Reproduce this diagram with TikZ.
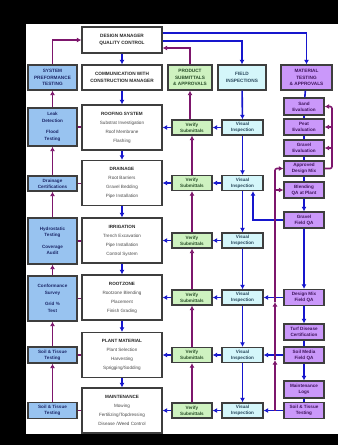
\documentclass[tikz,border=0pt]{standalone}
\usepackage{fontspec}
\setmainfont{Liberation Sans}
\usetikzlibrary{arrows.meta}

\definecolor{flowblue}{RGB}{22,22,205}
\definecolor{flowpurple}{RGB}{125,22,108}
\definecolor{boxedge}{RGB}{62,62,62}
\definecolor{fillblue}{RGB}{152,195,240}
\definecolor{fillgreen}{RGB}{206,242,192}
\definecolor{fillcyan}{RGB}{212,246,250}
\definecolor{fillpurple}{RGB}{202,152,250}
\definecolor{inkdark}{RGB}{38,38,38}
\definecolor{inkgray}{RGB}{75,75,75}
\definecolor{inkblue}{RGB}{28,40,105}
\definecolor{inkgreen}{RGB}{40,78,40}
\definecolor{inkcyan}{RGB}{40,72,92}
\definecolor{inkpurple}{RGB}{62,20,92}

\begin{document}
\begin{tikzpicture}[x=1pt,y=-1pt,
  box/.style={draw=boxedge,line width=1.3pt,inner sep=0pt,align=center,
    font=\fontsize{4.6}{6}\selectfont\bfseries},
  headbox/.style={box,minimum height=25pt,font=\fontsize{4.7}{6.4}\selectfont\bfseries},
  mainbox/.style={box,fill=white,text=inkgray,minimum width=80pt,minimum height=45pt,
    font=\fontsize{4.6}{9}\selectfont},
  testbox/.style={box,fill=fillblue,text=inkblue,minimum width=49pt},
  verifybox/.style={box,fill=fillgreen,text=inkgreen,minimum width=40pt,minimum height=15pt},
  visualbox/.style={box,fill=fillcyan,text=inkcyan,minimum width=41pt,minimum height=15pt},
  matbox/.style={box,fill=fillpurple,text=inkpurple,minimum width=40pt,minimum height=16pt},
  ttl/.style={text=inkdark,font=\fontsize{4.6}{9}\selectfont\bfseries},
  bl/.style={draw=flowblue,line width=1.6pt},
  pu/.style={draw=flowpurple,line width=1.6pt},
  tip/.style={-{Latex[length=4.5pt,width=5pt]}}
]
% frame
\fill[black] (0,0) rectangle (338,445);
\fill[white] (26,24) rectangle (338,434);

% header row
\node[box,fill=white,text=inkdark,minimum width=80pt,minimum height=26pt,
  font=\fontsize{4.7}{6.4}\selectfont\bfseries] (dm) at (122,40) {DESIGN MANAGER\\QUALITY CONTROL};
\node[headbox,fill=fillblue,text=inkblue,minimum width=49pt] (spt) at (52.5,77.5) {SYSTEM\\PREFORMANCE\\TESTING};
\node[headbox,fill=white,text=inkdark,minimum width=80pt] (ccm) at (122,77.5) {COMMUNICATION WITH\\CONSTRUCTION MANAGER};
\node[headbox,fill=fillgreen,text=inkgreen,minimum width=44pt] (psa) at (190,77.5) {PRODUCT\\SUBMITTALS\\\& APPROVALS};
\node[headbox,fill=fillcyan,text=inkcyan,minimum width=48pt] (fi) at (242,77.5) {FIELD\\INSPECTIONS};
\node[headbox,fill=fillpurple,text=inkpurple,minimum width=51pt] (mta) at (306.5,77.5) {MATERIAL\\TESTING\\\& APPROVALS};

% construction phases
\node[mainbox] (m1) at (122,127.5) {{\color{inkdark}\bfseries ROOFING SYSTEM}\\Substrat Investigation\\Roof Membrane\\Flashing};
\node[mainbox] (m2) at (122,183) {{\color{inkdark}\bfseries DRAINAGE}\\Root Barriers\\Gravel Bedding\\Pipe Installation};
\node[mainbox] (m3) at (122,240.5) {{\color{inkdark}\bfseries IRRIGATION}\\Trench Excavation\\Pipe Installation\\Control System};
\node[mainbox] (m4) at (122,297.5) {{\color{inkdark}\bfseries ROOTZONE}\\Rootzone Blending\\Placement\\Finish Grading};
\node[mainbox] (m5) at (122,355) {{\color{inkdark}\bfseries PLANT MATERIAL}\\Plant Selection\\Harvesting\\Sprigging/Sodding};
\node[mainbox] (m6) at (122,410.5) {{\color{inkdark}\bfseries MAINTENANCE}\\Mowing\\Fertilizing/Topdressing\\Disease /Weed Control};

% system tests
\node[testbox,minimum height=38pt,font=\fontsize{4.6}{6.5}\selectfont\bfseries] (t1) at (52.5,127) {Leak\\Detection\\[5pt]Flood\\Testing};
\node[testbox,minimum height=15pt] (t2) at (52.5,183.5) {Drainage\\Certifications};
\node[testbox,minimum height=46pt,font=\fontsize{4.6}{6.5}\selectfont\bfseries] (t3) at (52.5,241) {Hydrostatic\\Testing\\[5pt]Coverage\\Audit};
\node[testbox,minimum height=45pt,font=\fontsize{4.6}{6.5}\selectfont\bfseries] (t4) at (52.5,298.5) {Conformance\\Survey\\[5pt]Grid \%\\Test};
\node[testbox,minimum height=16pt] (t5) at (52.5,355) {Soil \& Tissue\\Testing};
\node[testbox,minimum height=16pt] (t6) at (52.5,410.5) {Soil \& Tissue\\Testing};

% submittal checks and inspections
\foreach \i/\y in {1/127.5,2/183,3/240.5,4/297.5,5/355,6/410.5}{
  \node[verifybox] (v\i) at (192,\y) {Verify\\Submittals};
  \node[visualbox] (i\i) at (242.5,\y) {Visual\\Inspection};
}

% material testing column
\node[matbox,minimum height=17pt] (sand) at (304,106.5) {Sand\\Evaluation};
\node[matbox] (peat) at (304,127) {Peat\\Evaluation};
\node[matbox] (grav) at (304,148) {Gravel\\Evaluation};
\node[matbox,minimum height=15pt] (adm) at (304,168.5) {Approved\\Design Mix};
\node[matbox] (blend) at (304,190) {Blending\\QA at Plant};
\node[matbox] (gfqa) at (304,220) {Gravel\\Field QA};
\node[matbox] (dmqa) at (304,297.5) {Design Mix\\Field QA};
\node[matbox] (turf) at (304,332) {Turf Disease\\Certification};
\node[matbox] (smqa) at (304,355) {Soil Media\\Field QA};
\node[matbox,minimum height=17pt] (logs) at (304,389.5) {Maintenance\\Logs};
\node[matbox] (st) at (304,410.5) {Soil \& Tissue\\Testing};

% helper columns for routed lines
\coordinate (bx) at (332,0);
\coordinate (px) at (275,0);

% blue flow: design manager and construction sequence
\draw[bl,tip] ([yshift=7pt]dm.east) -| (mta.north);
\draw[bl,tip] ([yshift=-1pt]dm.east) -| (fi.north);
\draw[bl,tip] (dm) -- (ccm);
\draw[bl,tip] (ccm) -- (m1);
\foreach \a/\b in {m1/m2,m2/m3,m3/m4,m4/m5,m5/m6}
  \draw[bl,tip] (\a) -- (\b);
\draw[bl,tip] (fi) -- (i1);
\foreach \a/\b in {i1/i2,i2/i3,i3/i4,i4/i5,i5/i6}
  \draw[bl,tip] (\a) -- (\b);
\foreach \i in {1,...,6}{
  \draw[bl,tip] (i\i) -- (v\i);
  \draw[bl,tip] (v\i) -- (m\i);
}

% blue flow: material testing column
\draw[bl] (mta) -- (sand);
\draw[bl] (sand) -- (peat);
\draw[bl] (peat) -- (grav);
\draw[bl] (grav) -- (adm);
\draw[bl] (adm) -- (blend);
\draw[bl,tip] (blend) -- (gfqa);
\draw[bl,tip] (gfqa) -- (dmqa);
\draw[bl,tip] (dmqa) -- (turf);
\draw[bl] (turf) -- (smqa);
\draw[bl,tip] (smqa) -- (logs);
\draw[bl] (logs) -- (st);
\draw[bl,tip] (gfqa.west) -| ([xshift=10.5pt]i2.south);
\draw[bl,tip] (dmqa) -- (i4);
\draw[bl,tip] (smqa) -- (i5);
\draw[bl,tip] (st) -- (i6);

% purple flow: reporting back
\draw[pu,tip] (spt.north) |- (dm.west);
\draw[pu,tip] (psa.north) |- ([yshift=-8pt]dm.east);
\foreach \a/\b in {t6/t5,t5/t4,t4/t3,t3/t2,t2/t1,t1/spt}
  \draw[pu,tip] (\a) -- (\b);
\foreach \i in {1,...,6}
  \draw[pu] (t\i.east) -- (t\i.east -| m\i.west);
\foreach \a/\b in {v6/v5,v5/v4,v4/v3,v3/v2,v2/v1}
  \draw[pu,tip] (\a) -- (\b);
\draw[pu,tip] (v1.north -| psa.south) -- (psa.south);

% purple flow: design mix approval loop
\draw[pu,tip,rounded corners=2pt] (adm.east) -- (adm.east -| bx) -- (sand.east -| bx) -- (sand.east);
\draw[pu,tip] (peat.east -| bx) -- (peat.east);
\draw[pu,tip] (grav.east -| bx) -- (grav.east);

% purple flow: field testing back to mix approval
\coordinate (pa) at (275,360);
\coordinate (pb) at (275,302);
\draw[pu,tip] (st.west -| px) -- (pa);
\draw[pu,tip] (pa) -- (pb);
\draw[pu,tip,rounded corners=2pt] (pb) |- (adm.west);
\draw[pu,tip] (blend.west -| px) -- (blend.west);
\end{tikzpicture}
\end{document}
